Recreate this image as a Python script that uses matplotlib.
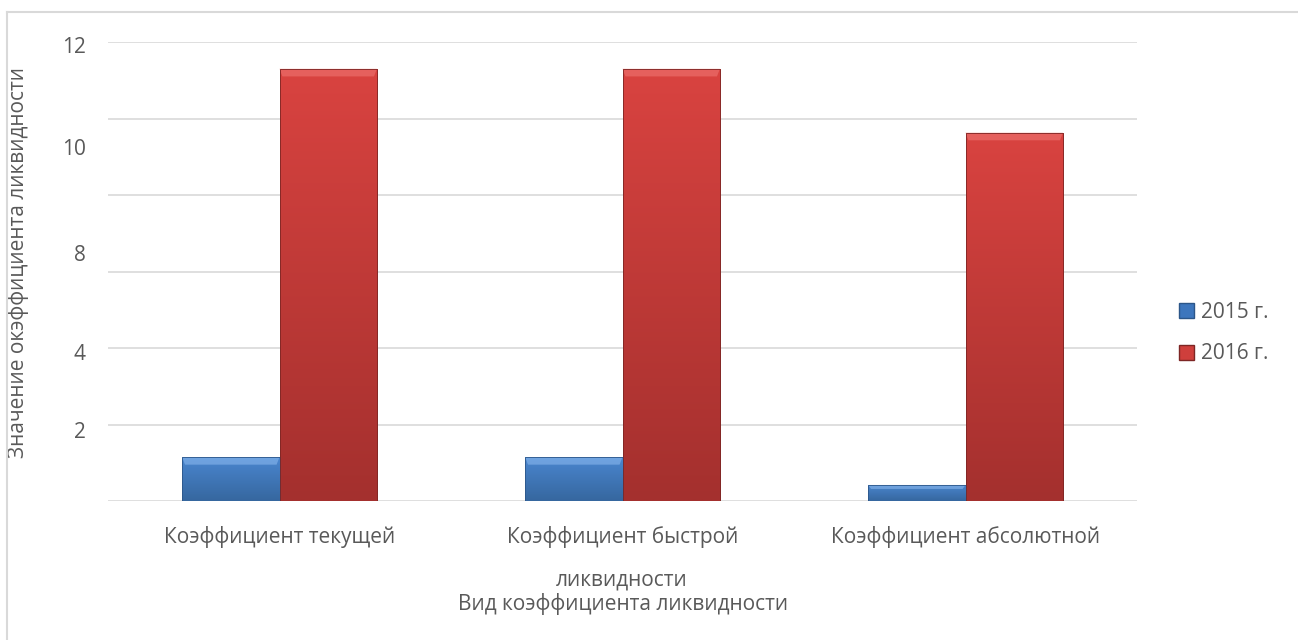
import numpy as np
import matplotlib
matplotlib.use("Agg")
import matplotlib.pyplot as plt
from matplotlib.patches import Patch
from matplotlib.lines import Line2D

plt.rcParams['font.family'] = ['Open Sans', 'DejaVu Sans']

# -----------------------------
# Data
# -----------------------------
categories = ["Коэффициент текущей", "Коэффициент быстрой", "Коэффициент абсолютной"]
series_names = ["2015 г.", "2016 г."]
values_2015 = [1.15, 1.15, 0.42]
values_2016 = [11.3, 11.3, 9.63]

# odd hand-placed axis labels from the original chart
ytick_labels = ["12", "10", "8", "4", "2"]
ytick_label_pos = [11.92, 9.25, 6.48, 3.9, 1.86]

text_color = "#595959"
grid_color = "#d9d9d9"
fs = 15

fig = plt.figure(figsize=(12.98, 6.4), dpi=100)
ax = fig.add_axes([108 / 1298, 1 - 501 / 640, (1137 - 108) / 1298, (501 - 42) / 640])

x = np.arange(len(categories))
w = 0.284

bars15 = ax.bar(x - w / 2, values_2015, w, color="#3d76bd", edgecolor="#2c5689", linewidth=0.6, zorder=3)
bars16 = ax.bar(x + w / 2, values_2016, w, color="#cf3f3c", edgecolor="#7d2624", linewidth=0.6, zorder=3)


def shade(bars, top_col, bot_col, bevel_col):
    # vertical gradient clipped to each bar, plus a light bevel at the top
    for b in bars:
        x0, y0 = b.get_x(), b.get_y()
        bw, bh = b.get_width(), b.get_height()
        grad = np.linspace(0, 1, 100)[:, None]
        top = np.array(matplotlib.colors.to_rgb(top_col))
        bot = np.array(matplotlib.colors.to_rgb(bot_col))
        img = top[None, None, :] * (1 - grad[..., None]) + bot[None, None, :] * grad[..., None]
        img = np.repeat(img, 2, axis=1)
        im = ax.imshow(img, extent=[x0, x0 + bw, y0, y0 + bh], aspect="auto",
                       origin="upper", zorder=3.5, interpolation="bilinear")
        im.set_clip_path(b)
        bev = min(0.2, bh * 0.25)
        ax.fill([x0, x0 + bw, x0 + bw - bw * 0.03, x0 + bw * 0.03],
                [y0 + bh, y0 + bh, y0 + bh - bev, y0 + bh - bev],
                color=bevel_col, alpha=0.55, lw=0, zorder=3.7)
        ax.add_patch(plt.Rectangle((x0, y0), bw, bh, fill=False,
                                   edgecolor=b.get_edgecolor(), lw=0.6, zorder=3.8))


shade(bars15, "#4a86cf", "#36679f", "#8fbcf0")
shade(bars16, "#d94340", "#a4302e", "#f07a76")

ax.set_xlim(-0.5, 2.5)
ax.set_ylim(0, 12)

ax.set_yticks(np.arange(0, 13, 2))
ax.set_yticklabels([])
ax.set_yticks(ytick_label_pos, minor=True)
ax.set_yticklabels(ytick_labels, minor=True)
ax.tick_params(axis="y", which="both", length=0, pad=16, labelsize=fs, labelcolor=text_color)
ax.yaxis.grid(True, which="major", color=grid_color, lw=1.2, zorder=0)

ax.set_xticks(x)
ax.set_xticklabels(categories)
ax.tick_params(axis="x", length=0, pad=18, labelsize=fs, labelcolor=text_color)

for s in ax.spines.values():
    s.set_visible(False)

ax.set_ylabel("Значение окэффициента ликвидности", fontsize=fs, color=text_color)
ax.yaxis.set_label_coords(-(108 - 29) / (1137 - 108), (501 - 262) / (501 - 42))

fig.text(622 / 1298, 1 - 580 / 640, "ликвидности", ha="center", va="center", fontsize=fs, color=text_color)
fig.text(623 / 1298, 1 - 604 / 640, "Вид коэффициента ликвидности", ha="center", va="center",
         fontsize=fs, color=text_color)

handles = [Patch(facecolor="#3d76bd", edgecolor="#2c5689"),
           Patch(facecolor="#cf3f3c", edgecolor="#7d2624")]
fig.legend(handles, series_names, loc="center left", bbox_to_anchor=(1160 / 1298, 1 - 333 / 640),
           frameon=False, fontsize=fs, labelcolor=text_color, handlelength=0.75, handleheight=0.75,
           handletextpad=0.3, labelspacing=1.0)

# chart-area border (left and top edges only visible)
fig.add_artist(Line2D([7 / 1298, 7 / 1298], [0, 1 - 12 / 640], transform=fig.transFigure,
                      color="#d9d9d9", lw=1.5))
fig.add_artist(Line2D([7 / 1298, 1], [1 - 12 / 640, 1 - 12 / 640], transform=fig.transFigure,
                      color="#d9d9d9", lw=1.5))

fig.savefig("out.png", dpi=100, facecolor="white")
